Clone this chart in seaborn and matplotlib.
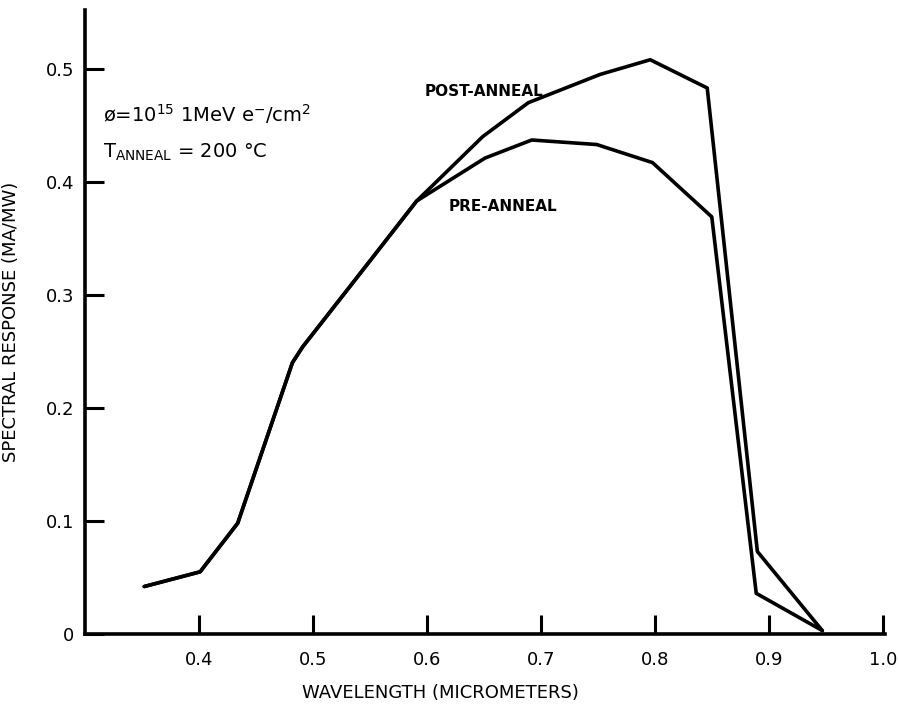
import matplotlib
matplotlib.use("Agg")
import matplotlib.pyplot as plt
import seaborn as sns
import pandas as pd

pre_wl = [0.352, 0.401, 0.434, 0.482, 0.491, 0.55, 0.591, 0.651, 0.692, 0.749, 0.798, 0.850, 0.889, 0.947]
pre_sr = [0.042, 0.055, 0.098, 0.240, 0.254, 0.330, 0.383, 0.421, 0.437, 0.433, 0.417, 0.369, 0.036, 0.003]
post_wl = [0.352, 0.401, 0.434, 0.482, 0.491, 0.55, 0.591, 0.649, 0.689, 0.752, 0.796, 0.846, 0.890, 0.947]
post_sr = [0.042, 0.055, 0.098, 0.240, 0.254, 0.330, 0.383, 0.440, 0.470, 0.495, 0.508, 0.483, 0.073, 0.003]
xticks = [0.4, 0.5, 0.6, 0.7, 0.8, 0.9, 1.0]
xticklabels = ["0.4", "0.5", "0.6", "0.7", "0.8", "0.9", "1.0"]
yticks = [0.0, 0.1, 0.2, 0.3, 0.4, 0.5]
yticklabels = ["0", "0.1", "0.2", "0.3", "0.4", "0.5"]

df = pd.DataFrame({
    "wl": pre_wl + post_wl,
    "sr": pre_sr + post_sr,
    "series": ["PRE-ANNEAL"] * len(pre_wl) + ["POST-ANNEAL"] * len(post_wl),
})

sns.set_style("ticks")
plt.rcParams['font.family'] = ['DejaVu Sans']
plt.rcParams['text.color'] = 'black'
plt.rcParams['axes.labelcolor'] = 'black'

fig = plt.figure(figsize=(8.99, 7.13), dpi=100)
ax = fig.add_axes([85 / 899, 1 - 634 / 713, 800 / 899, 624 / 713])

sns.lineplot(data=df, x="wl", y="sr", hue="series", units="series", estimator=None,
             palette={"PRE-ANNEAL": "black", "POST-ANNEAL": "black"},
             linewidth=2.6, sort=False, legend=False, ax=ax)

ax.set_xlim(0.3, 1.002)
ax.set_ylim(0, 0.552)
ax.set_xticks(xticks)
ax.set_xticklabels(xticklabels)
ax.set_yticks(yticks)
ax.set_yticklabels(yticklabels)
ax.tick_params(axis="both", direction="in", length=14, width=2.2, labelsize=13, colors="black")
ax.tick_params(axis="x", pad=12)
ax.tick_params(axis="y", pad=8)
for s in ["top", "right"]:
    ax.spines[s].set_visible(False)
for s in ["left", "bottom"]:
    ax.spines[s].set_linewidth(2.6)
    ax.spines[s].set_color("black")

ax.set_xlabel("WAVELENGTH (MICROMETERS)", fontsize=13)
ax.set_ylabel("SPECTRAL RESPONSE (MA/MW)", fontsize=13)
ax.xaxis.set_label_coords((440 - 85) / 800, -(684 - 634) / 624)
ax.yaxis.set_label_coords(-(85 - 20) / 800, 0.5)

fig.text(103 / 899, 1 - 122 / 713, "ø=10$^{15}$ 1MeV e$^{-}$/cm$^{2}$", fontsize=14, va="baseline")
fig.text(103 / 899, 1 - 158 / 713, "T$_{\\mathregular{ANNEAL}}$ = 200 °C", fontsize=14, va="baseline")
ax.text(0.598, 0.48, "POST-ANNEAL", fontsize=11, fontweight="bold", ha="left", va="center")
ax.text(0.619, 0.378, "PRE-ANNEAL", fontsize=11, fontweight="bold", ha="left", va="center")

fig.savefig("out.png", dpi=100)
